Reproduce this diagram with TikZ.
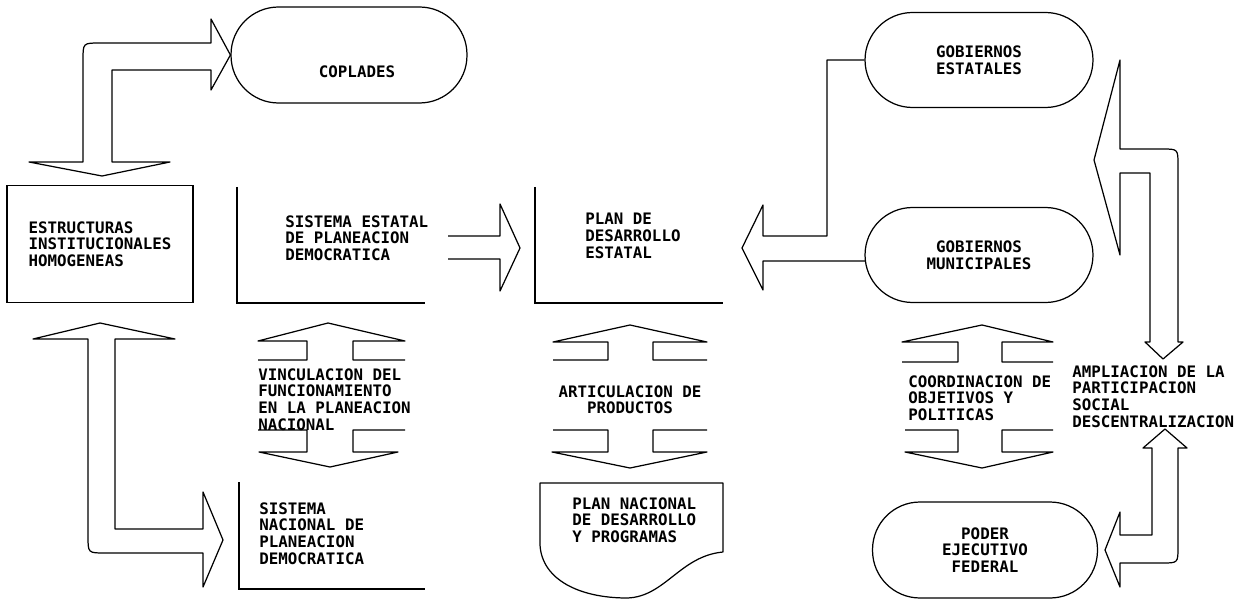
\documentclass[tikz,border=0pt]{standalone}
\usepackage{fontspec}
\setmonofont{DejaVu Sans Mono}
\usetikzlibrary{positioning}

\begin{document}
\begin{tikzpicture}[x=0.02cm, y=-0.02cm]
    % Stili
    \tikzstyle{testo}=[font=\ttfamily\bfseries\fontsize{9}{9.5}\selectfont, align=left, inner sep=0pt, anchor=north west]
    \tikzstyle{ovale}=[rectangle, rounded corners=0.95cm, draw=black, line width=0.7pt, font=\ttfamily\bfseries\fontsize{9}{9.5}\selectfont, align=center, inner sep=0pt]
    \tikzstyle{scatola}=[rectangle, draw=black, line width=0.7pt, font=\ttfamily\bfseries\fontsize{9}{9.5}\selectfont, align=left, inner sep=0pt]
    \tikzstyle{freccia}=[draw=black, line width=0.7pt, line join=round]
    \tikzstyle{bordo}=[draw=black, line width=1.6pt]

    \useasboundingbox (0,0) rectangle (1246,601);

    % Nodi
    \node (coplades) [ovale, minimum width=4.72cm, minimum height=1.92cm,
        label={[font=\ttfamily\bfseries\fontsize{9}{9.5}\selectfont, xshift=0.16cm, yshift=-0.34cm]center:COPLADES}] at (349,55) {};
    \node (estructuras) [scatola, minimum width=3.72cm, minimum height=2.34cm] at (100,244) {ESTRUCTURAS\\INSTITUCIONALES\\HOMOGENEAS};
    \node (sisEst) [testo] at (285,215) {SISTEMA ESTATAL\\DE PLANEACION\\DEMOCRATICA};
    \node (planEst) [testo] at (585,213) {PLAN DE\\DESARROLLO\\ESTATAL};
    \node (gobEst) [ovale, minimum width=4.56cm, minimum height=1.9cm] at (979,60) {GOBIERNOS\\ESTATALES};
    \node (gobMun) [ovale, minimum width=4.56cm, minimum height=1.9cm] at (979,255) {GOBIERNOS\\MUNICIPALES};
    \node (vinc) [testo] at (258,368) {VINCULACION DEL\\FUNCIONAMIENTO\\EN LA PLANEACION\\NACIONAL};
    \node (artic) [testo, anchor=north, align=center] at (630,385) {ARTICULACION DE\\PRODUCTOS};
    \node (coord) [testo] at (908,375) {COORDINACION DE\\OBJETIVOS Y\\POLITICAS};
    \node (ampl) [testo] at (1072,365) {AMPLIACION DE LA\\PARTICIPACION\\SOCIAL\\DESCENTRALIZACION};
    \node (sisNac) [testo] at (259,502) {SISTEMA\\NACIONAL DE\\PLANEACION\\DEMOCRATICA};
    \node (planNac) [testo] at (572,497) {PLAN NACIONAL\\DE DESARROLLO\\Y PROGRAMAS};
    \node (poder) [ovale, minimum width=4.5cm, minimum height=1.92cm] at (985,550) {PODER\\EJECUTIVO\\FEDERAL};

    % Bordi
    \draw [bordo] (237,187) -- (237,303) -- (425,303);
    \draw [bordo] (535,187) -- (535,303) -- (723,303);
    \draw [bordo] (239,482) -- (239,589) -- (425,589);
    \draw [freccia] (540,483) -- (723,483) -- (723,552)
        .. controls (680,556) and (665,597) .. (627,598)
        .. controls (580,598) and (542,580) .. (540,545) -- cycle;

    % Frecce
    \draw [freccia] (102,176) -- (170,162) -- (112,162) -- (112,70) -- (211,70) -- (211,90)
        -- (coplades.west) -- (211,19) -- (211,43) -- (100,43) .. controls (83,43) .. (83,60)
        -- (83,162) -- (29,162) -- cycle;
    \draw [freccia] (100,323) -- (175,339) -- (115,339) -- (115,529) -- (203,529) -- (203,492)
        -- (223,540) -- (203,587) -- (203,553) -- (105,553) .. controls (88,553) .. (88,536)
        -- (88,339) -- (33,339) -- cycle;
    \draw [freccia] (448,236) -- (500,236) -- (500,204) -- (520,248) -- (500,291) -- (500,259) -- (448,259);
    \draw [freccia] (gobEst.west) -- (827,60) -- (827,236) -- (763,236) -- (763,205) -- (742,248)
        -- (763,290) -- (763,261) -- (865,261);
    \draw [freccia] (1094,160) -- (1120,60) -- (1120,149) -- (1162,149) .. controls (1178,149) .. (1178,165)
        -- (1178,342) -- (1183,342) -- (1163,359) -- (1145,342) -- (1150,342) -- (1150,173)
        -- (1120,173) -- (1120,255) -- cycle;
    \draw [freccia] (1165,429) -- (1187,448) -- (1178,448) -- (1178,547) .. controls (1178,563) .. (1162,563)
        -- (1120,563) -- (1120,587) -- (1105,550) -- (1120,512) -- (1120,535) -- (1152,535)
        -- (1152,448) -- (1143,448) -- cycle;

    % Frecce doppie
    \draw [freccia] (258,360) -- (307,360) -- (307,341) -- (258,341) -- (328,323) -- (405,341)
        -- (353,341) -- (353,360) -- (405,360);
    \draw [freccia] (258,430) -- (307,430) -- (307,452) -- (259,452) -- (330,467) -- (398,452)
        -- (353,452) -- (353,430) -- (405,430);
    \draw [freccia] (553,360) -- (608,360) -- (608,342) -- (553,342) -- (630,325) -- (707,342)
        -- (653,342) -- (653,360) -- (707,360);
    \draw [freccia] (553,430) -- (608,430) -- (608,452) -- (552,452) -- (630,468) -- (707,452)
        -- (653,452) -- (653,430) -- (707,430);
    \draw [freccia] (902,362) -- (958,362) -- (958,342) -- (902,342) -- (982,325) -- (1053,342)
        -- (1002,342) -- (1002,362) -- (1053,362);
    \draw [freccia] (905,430) -- (958,430) -- (958,452) -- (905,452) -- (982,468) -- (1053,452)
        -- (1002,452) -- (1002,430) -- (1053,430);

\end{tikzpicture}
\end{document}
